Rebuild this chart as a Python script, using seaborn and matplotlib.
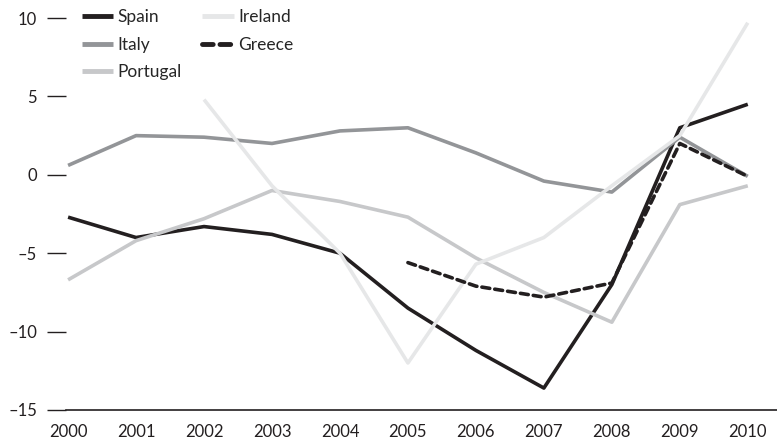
import pandas as pd
import matplotlib.pyplot as plt
import seaborn as sns
import numpy as np

years = list(range(2000, 2011))
spain = [-2.7, -4.0, -3.3, -3.8, -5.0, -8.5, -11.2, -13.6, -7.0, 3.0, 4.5]
italy = [0.6, 2.5, 2.4, 2.0, 2.8, 3.0, 1.4, -0.4, -1.1, 2.4, -0.1]
portugal = [-6.7, -4.2, -2.8, -1.0, -1.7, -2.7, -5.3, -7.5, -9.4, -1.9, -0.7]
ireland = [np.nan, np.nan, 4.8, -0.7, -5.0, -12.0, -5.7, -4.0, -0.7, 2.5, 9.7]
greece = [np.nan] * 5 + [-5.6, -7.1, -7.8, -6.9, 2.0, -0.1]

series = {"Spain": spain, "Italy": italy, "Portugal": portugal,
          "Ireland": ireland, "Greece": greece}
order = ["Spain", "Italy", "Portugal", "Ireland", "Greece"]
colors = {"Spain": "#231f20", "Italy": "#939598", "Portugal": "#c7c8ca",
          "Ireland": "#e6e7e8", "Greece": "#231f20"}
dashes = {"Spain": "", "Italy": "", "Portugal": "", "Ireland": "", "Greece": (2.2, 1.4)}

df = pd.DataFrame([(c, y, v) for c in order for y, v in zip(years, series[c])],
                  columns=["country", "year", "value"]).dropna()

sns.set_style("white")
plt.rcParams['font.family'] = ['Lato', 'DejaVu Sans']

fig = plt.figure(figsize=(7.77, 4.42), dpi=100)
ax = fig.add_axes([0.085, 0.0724, 0.915, 0.9276])

sns.lineplot(data=df, x="year", y="value", hue="country", style="country",
             hue_order=order, style_order=order, palette=colors, dashes=dashes,
             linewidth=2.6, ax=ax, legend=True)
for line in ax.lines:
    line.set_dash_capstyle("round")
    line.set_solid_capstyle("butt")

ax.set_xlim(1999.97, 2010.43)
ax.set_ylim(-15, 11.15)
ax.set_xticks(years)
ax.set_xticklabels([str(y) for y in years])
ax.set_yticks([10, 5, 0, -5, -10, -15])
ax.set_yticklabels(["10", "5", "0", "\u20135", "\u201310", "\u201315"])
ax.set_xlabel("")
ax.set_ylabel("")

for s in ["top", "right", "left"]:
    ax.spines[s].set_visible(False)
ax.spines["bottom"].set_color("#231f20")
ax.spines["bottom"].set_linewidth(1.2)
ax.tick_params(axis="y", direction="out", length=14, width=1.0, color="#231f20",
               pad=7, labelsize=12, labelcolor="#231f20", left=True)
ax.tick_params(axis="x", length=0, pad=10, labelsize=12, labelcolor="#231f20")

handles, labels = ax.get_legend_handles_labels()
leg = ax.legend(handles, labels, ncol=2, frameon=False, loc="upper left",
                bbox_to_anchor=(0.0, 1.015), handlelength=1.8, handletextpad=0.25,
                columnspacing=1.2, labelspacing=0.65, fontsize=12.5)
for h in leg.get_lines():
    h.set_linewidth(3.5)

plt.savefig("out.png", dpi=100)
plt.close()
